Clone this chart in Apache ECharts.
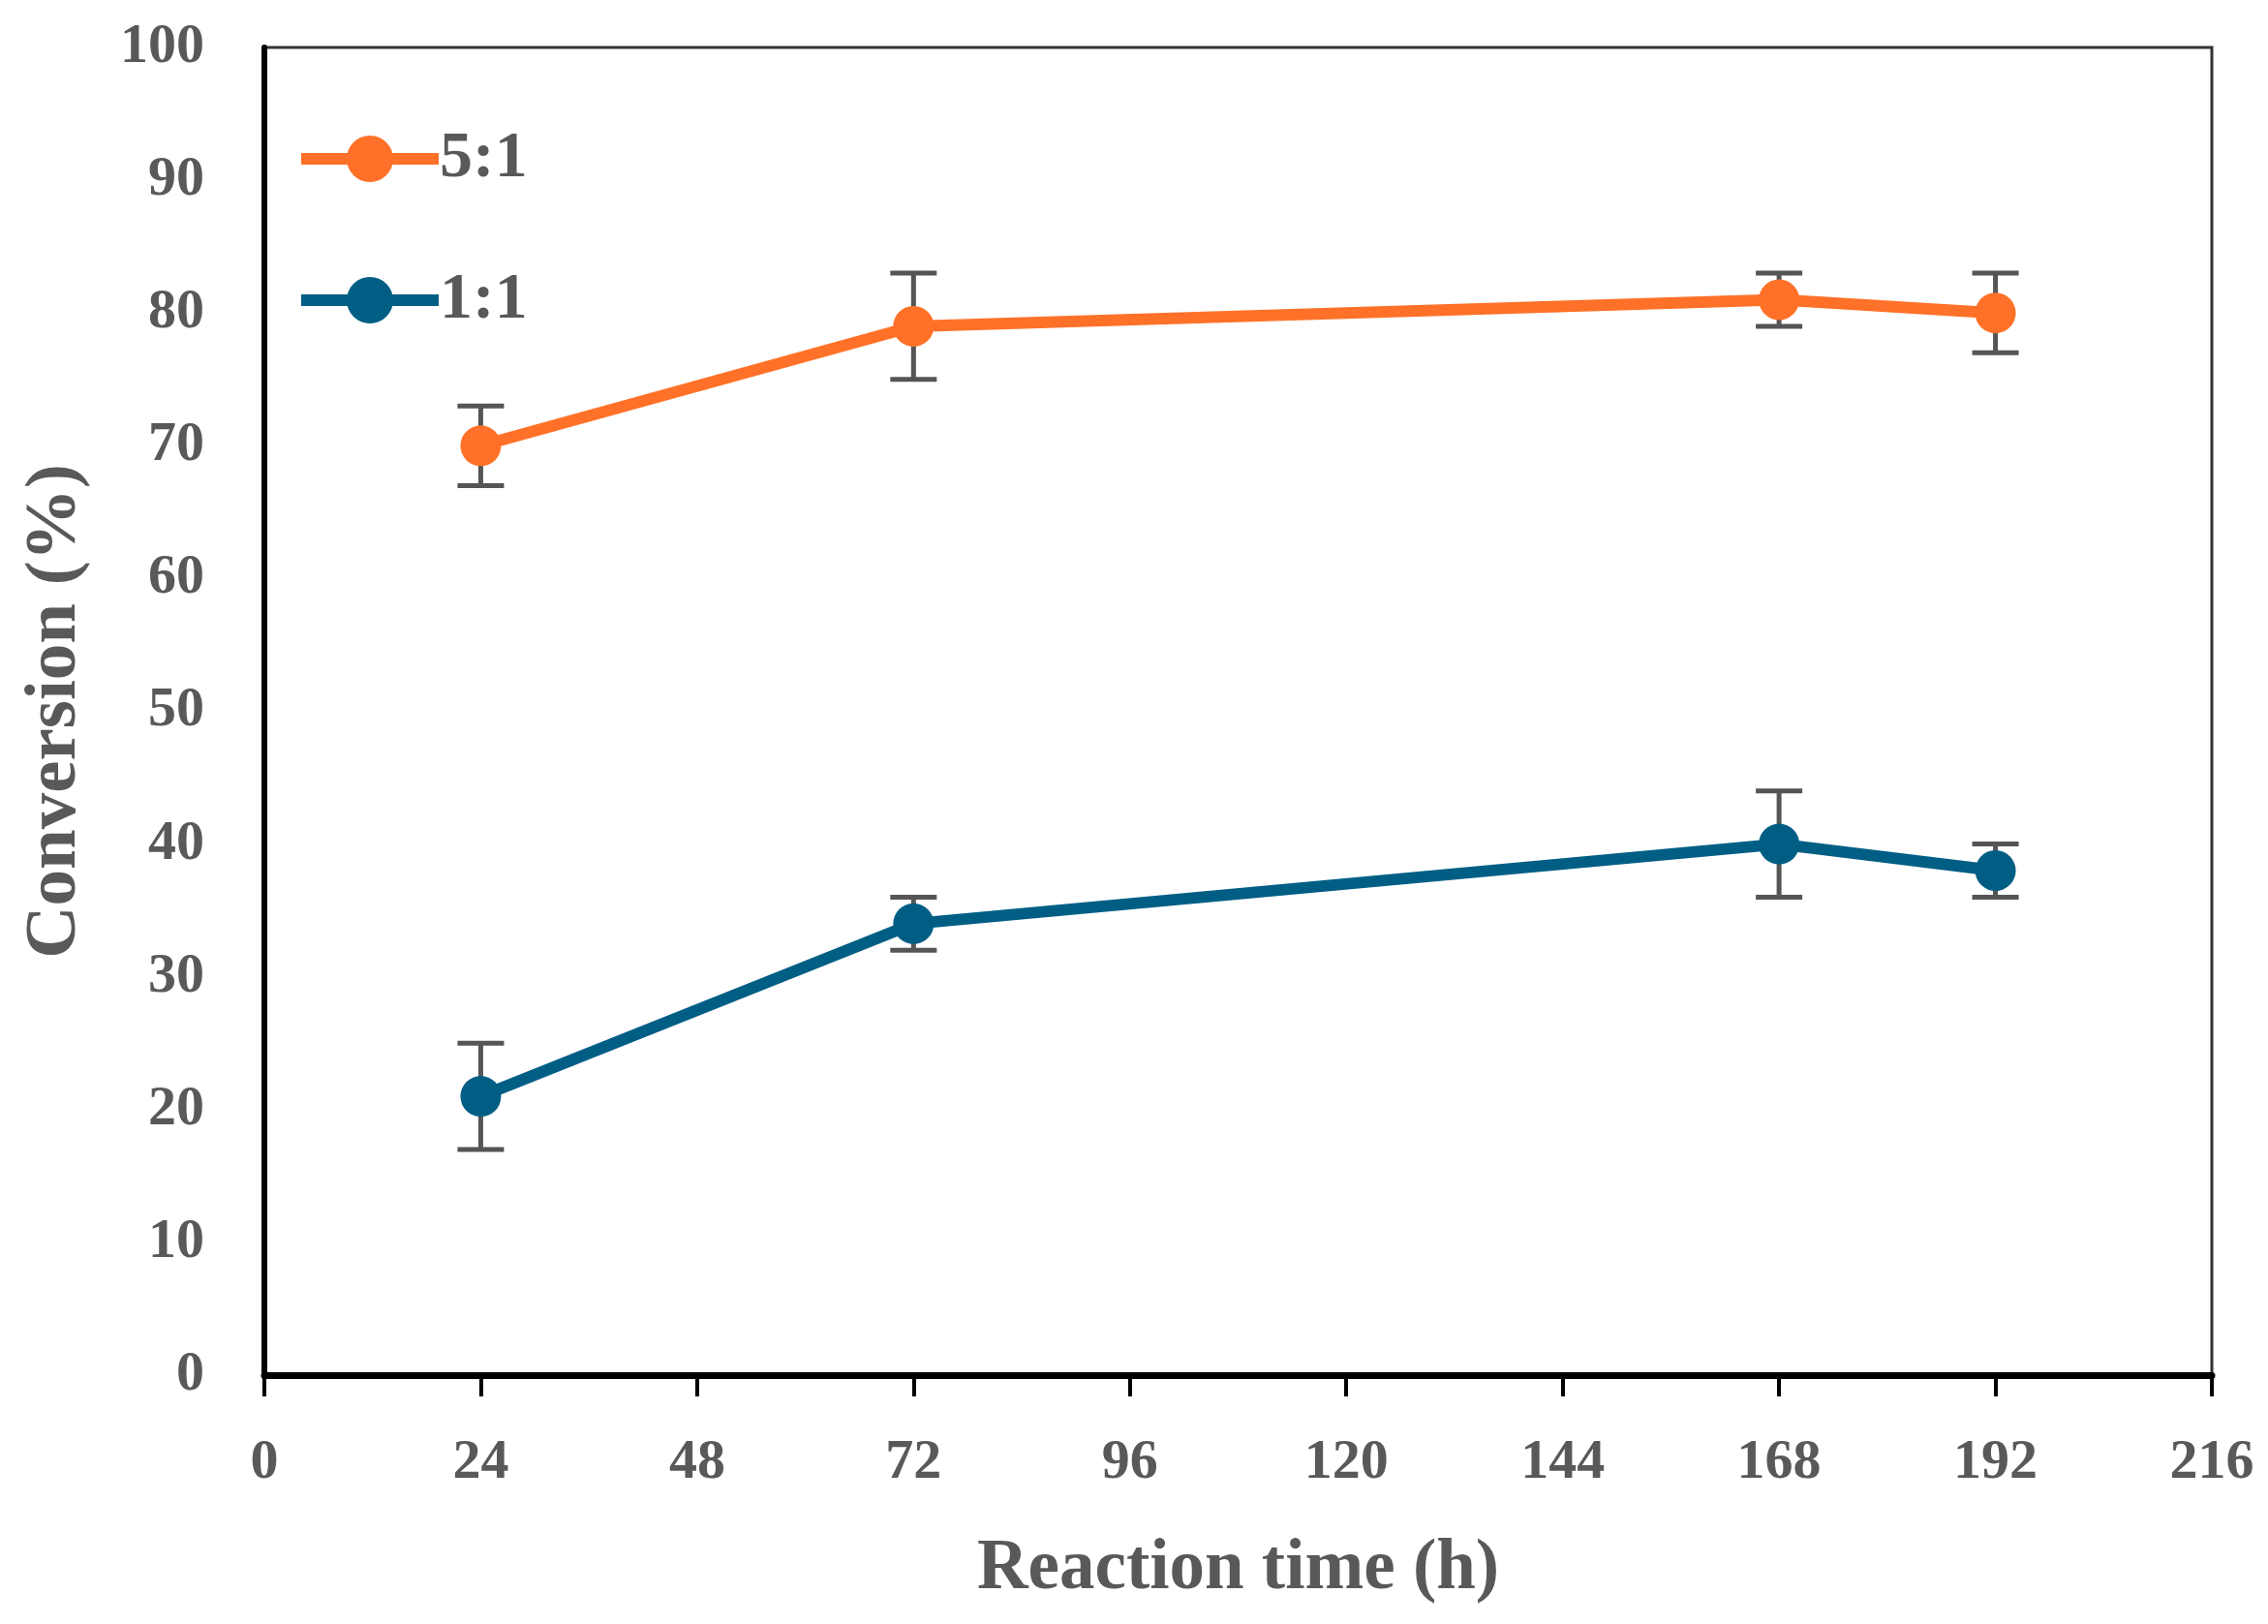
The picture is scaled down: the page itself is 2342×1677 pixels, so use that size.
<!DOCTYPE html>
<html>
<head>
<meta charset="utf-8">
<script src="https://cdn.jsdelivr.net/npm/echarts@6/dist/echarts.min.js"></script>
<style>html,body{margin:0;padding:0;background:#fff;}#c{width:2342px;height:1677px;}</style>
</head>
<body>
<div id="c"></div>
<script>
var seriesNames = ['5:1', '1:1'];
var times = [24, 72, 168, 192];
var ratio51 = [70, 79, 81, 80];
var ratio51Low = [67, 75, 79, 77];
var ratio51High = [73, 83, 83, 83];
var ratio11 = [21, 34, 40, 38];
var ratio11Low = [17, 32, 36, 36];
var ratio11High = [25, 36, 44, 40];
var xTicks = [0, 24, 48, 72, 96, 120, 144, 168, 192, 216];
var yTicks = [0, 10, 20, 30, 40, 50, 60, 70, 80, 90, 100];

var colors = ['#FF7128', '#005E85'];
var fontFamily = '"Liberation Serif", "DejaVu Serif", serif';
var textColor = '#595959';

function pairs(xs, ys) { return xs.map(function (x, i) { return [x, ys[i]]; }); }
function errData(xs, lo, hi) { return xs.map(function (x, i) { return [x, lo[i], hi[i]]; }); }

function errRender(params, api) {
  var x = api.value(0);
  var lo = api.coord([x, api.value(1)]);
  var hi = api.coord([x, api.value(2)]);
  var half = 24;
  var st = { stroke: '#555555', lineWidth: 5 };
  return {
    type: 'group',
    children: [
      { type: 'line', shape: { x1: lo[0], y1: lo[1], x2: hi[0], y2: hi[1] }, style: st },
      { type: 'line', shape: { x1: lo[0] - half, y1: lo[1], x2: lo[0] + half, y2: lo[1] }, style: st },
      { type: 'line', shape: { x1: hi[0] - half, y1: hi[1], x2: hi[0] + half, y2: hi[1] }, style: st }
    ]
  };
}

var chart = echarts.init(document.getElementById('c'));
chart.setOption({
  backgroundColor: '#ffffff',
  animation: false,
  grid: {
    left: 273, right: 58, top: 49, bottom: 257,
    show: true, borderColor: '#333333', borderWidth: 3, backgroundColor: 'transparent'
  },
  legend: {
    data: seriesNames,
    orient: 'vertical',
    left: 300, top: 125,
    itemWidth: 142, itemHeight: 60, itemGap: 78,
    lineStyle: { width: 12 },
    textStyle: { fontFamily: fontFamily, fontWeight: 'bold', fontSize: 68, color: textColor, padding: [0, 0, 0, -4] }
  },
  xAxis: {
    type: 'value', min: 0, max: 216, interval: 24,
    axisLine: { show: true, lineStyle: { color: '#000', width: 7 } },
    axisTick: { show: true, length: 22, lineStyle: { color: '#000', width: 4 } },
    splitLine: { show: false },
    axisLabel: { margin: 62, fontFamily: fontFamily, fontWeight: 'bold', fontSize: 58, color: textColor },
    name: 'Reaction time (h)', nameLocation: 'middle', nameGap: 165,
    nameTextStyle: { fontFamily: fontFamily, fontWeight: 'bold', fontSize: 73, color: textColor }
  },
  yAxis: {
    type: 'value', min: 0, max: 100, interval: 10,
    axisLine: { show: true, lineStyle: { color: '#000', width: 6 } },
    axisTick: { show: false },
    splitLine: { show: false },
    axisLabel: { margin: 62, fontFamily: fontFamily, fontWeight: 'bold', fontSize: 58, color: textColor },
    name: 'Conversion (%)', nameLocation: 'middle', nameGap: 178,
    nameTextStyle: { fontFamily: fontFamily, fontWeight: 'bold', fontSize: 75, color: textColor }
  },
  series: [
    {
      name: seriesNames[0], type: 'line', data: pairs(times, ratio51),
      symbol: 'circle', symbolSize: 42, color: colors[0],
      lineStyle: { width: 12, color: colors[0] }, itemStyle: { color: colors[0] }, z: 3
    },
    {
      name: seriesNames[1], type: 'line', data: pairs(times, ratio11),
      symbol: 'circle', symbolSize: 42, color: colors[1],
      lineStyle: { width: 12, color: colors[1] }, itemStyle: { color: colors[1] }, z: 3
    },
    { type: 'custom', renderItem: errRender, data: errData(times, ratio51Low, ratio51High), z: 2, silent: true },
    { type: 'custom', renderItem: errRender, data: errData(times, ratio11Low, ratio11High), z: 2, silent: true }
  ]
});
</script>
</body>
</html>
